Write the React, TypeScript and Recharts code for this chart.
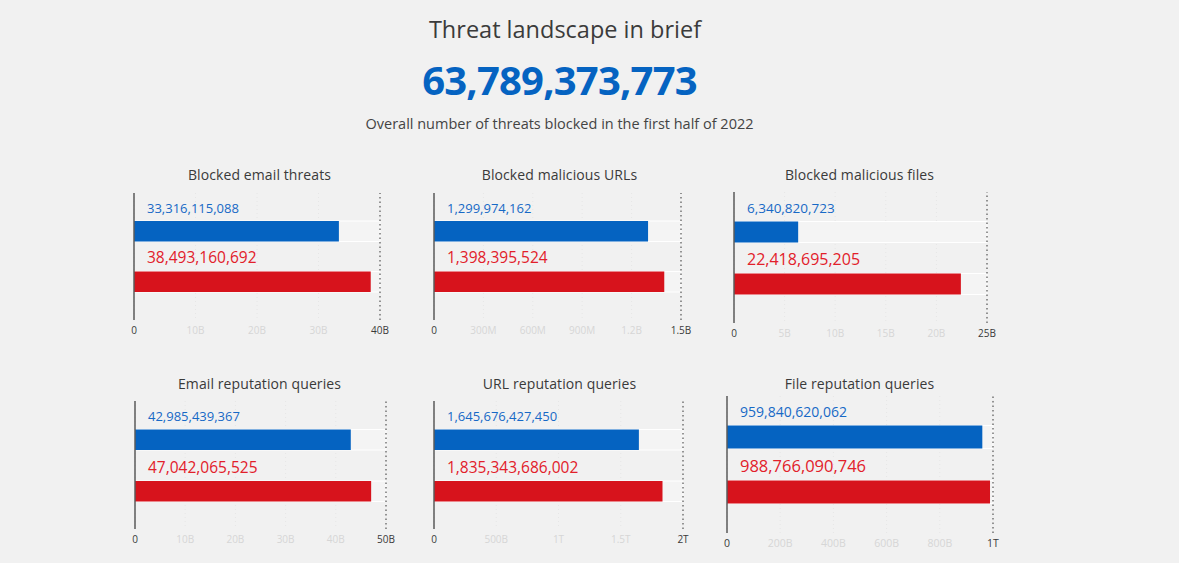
import React from 'react';
import { BarChart, Bar, XAxis, YAxis, CartesianGrid, ReferenceLine, Cell, LabelList } from 'recharts';

// ---- data ----
const panelTitles = [
  'Blocked email threats',
  'Blocked malicious URLs',
  'Blocked malicious files',
  'Email reputation queries',
  'URL reputation queries',
  'File reputation queries',
];
const periods = ['Previous period', 'H1 2022'];
const blueValues = [33316115088, 1299974162, 6340820723, 42985439367, 1645676427450, 959840620062];
const redValues = [38493160692, 1398395524, 22418695205, 47042065525, 1835343686002, 988766090746];
const axisMax = [40e9, 1.5e9, 25e9, 50e9, 2e12, 1e12];
const axisTicks = [
  [0, 10e9, 20e9, 30e9, 40e9],
  [0, 3e8, 6e8, 9e8, 1.2e9, 1.5e9],
  [0, 5e9, 10e9, 15e9, 20e9, 25e9],
  [0, 10e9, 20e9, 30e9, 40e9, 50e9],
  [0, 5e11, 1e12, 1.5e12, 2e12],
  [0, 2e11, 4e11, 6e11, 8e11, 1e12],
];
const headline = 'Threat landscape in brief';
const totalBlocked = 63789373773;
const subtitle = 'Overall number of threats blocked in the first half of 2022';

// ---- layout (pixel geometry of each panel) ----
const layout = [
  { axisX: 134, maxX: 380, top: 193, bottom: 320, titleX: 259.5, titleY: 175, bar: 20.5, pad: 13, blueFs: 13, redFs: 15.5, tickFs: 10 },
  { axisX: 434, maxX: 681, top: 193, bottom: 320, titleX: 559.5, titleY: 175, bar: 20.5, pad: 13, blueFs: 13, redFs: 15.5, tickFs: 10 },
  { axisX: 734, maxX: 987, top: 192, bottom: 323, titleX: 859.5, titleY: 175, bar: 21, pad: 13.5, blueFs: 13.5, redFs: 16, tickFs: 10 },
  { axisX: 135, maxX: 386, top: 401, bottom: 529, titleX: 259.5, titleY: 384, bar: 20.5, pad: 12.5, blueFs: 13, redFs: 15.5, tickFs: 10 },
  { axisX: 434, maxX: 683, top: 401, bottom: 529, titleX: 559.5, titleY: 384, bar: 20.5, pad: 12.5, blueFs: 13, redFs: 15.5, tickFs: 10 },
  { axisX: 727, maxX: 993, top: 396, bottom: 533, titleX: 859.5, titleY: 384, bar: 23, pad: 13.5, blueFs: 14, redFs: 16.5, tickFs: 10.5 },
];

const BLUE = '#0563c1';
const RED = '#d7131c';
const BLUE_TXT = '#1769c6';
const RED_TXT = '#e2202a';
const FONT = '"Open Sans", "Noto Sans", sans-serif';

const fmtAxis = (v: number) => {
  if (v === 0) return '0';
  if (v >= 1e12) return `${+(v / 1e12).toFixed(1)}T`;
  if (v >= 1e9) return `${+(v / 1e9).toFixed(1)}B`;
  if (v >= 1e6) return `${+(v / 1e6).toFixed(1)}M`;
  return String(v);
};

function Panel({ idx }: { idx: number }) {
  const L = layout[idx];
  const max = axisMax[idx];
  const ticks = axisTicks[idx];
  const data = [
    { name: periods[0], value: blueValues[idx] },
    { name: periods[1], value: redValues[idx] },
  ];
  const mL = 20, mR = 24, mT = 10, xH = 30;
  const plotW = L.maxX - L.axisX;
  const plotH = L.bottom - L.top;
  const W = plotW + mL + mR;
  const H = plotH + mT + xH;

  const Tick = (p: any) => {
    const v = p.payload.value;
    const edge = v === 0 || v === max;
    return (
      <text x={p.x} y={p.y + 10} textAnchor="middle" dominantBaseline="central" fontSize={L.tickFs}
        fontFamily={FONT} fill={edge ? '#3a3a3a' : '#d6d6d6'}>
        {fmtAxis(v)}
      </text>
    );
  };

  const ValueLabel = (p: any) => {
    const i = p.index;
    const fs = i === 0 ? L.blueFs : L.redFs;
    return (
      <text x={p.x + 13} y={p.y - 8.5} textAnchor="start" fontSize={fs} fontFamily={FONT}
        fill={i === 0 ? BLUE_TXT : RED_TXT}>
        {Number(p.value).toLocaleString('en-US')}
      </text>
    );
  };

  return (
    <>
      <div style={{ position: 'absolute', left: L.titleX - 150, top: L.titleY - 10, width: 300, textAlign: 'center',
        fontFamily: FONT, fontSize: 14, lineHeight: '20px', color: '#3a3a3a', fontWeight: 500, letterSpacing: 0.1 }}>
        {panelTitles[idx]}
      </div>
      <div style={{ position: 'absolute', left: L.axisX - mL, top: L.top - mT }}>
        <BarChart width={W} height={H} layout="vertical" data={data}
          margin={{ top: mT, right: mR, left: mL, bottom: 0 }}>
          <CartesianGrid horizontal={false} vertical stroke="#e6e6e6" strokeDasharray="1 3" />
          <XAxis type="number" domain={[0, max]} ticks={ticks} interval={0} tick={<Tick />}
            tickLine={false} axisLine={false} tickSize={0} tickMargin={0} height={xH} allowDataOverflow />
          <YAxis type="category" dataKey="name" hide padding={{ top: L.pad, bottom: L.pad }} />
          <ReferenceLine x={max} stroke="#555" strokeDasharray="1.5 3" strokeWidth={1.2} />
          <Bar dataKey="value" barSize={L.bar} isAnimationActive={false}
            background={{ fill: '#f4f4f4', stroke: '#ffffff', strokeWidth: 1 }}>
            <Cell fill={BLUE} />
            <Cell fill={RED} />
            <LabelList dataKey="value" content={ValueLabel} />
          </Bar>
          <ReferenceLine x={0} stroke="#5a5a5a" strokeWidth={1.5} />
        </BarChart>
      </div>
    </>
  );
}

export default function App() {
  return (
    <div style={{ position: 'absolute', left: 0, top: 0, width: 1179, height: 563, background: '#f1f1f1', overflow: 'hidden' }}>
      <div style={{ position: 'absolute', left: 365, top: 12, width: 400, textAlign: 'center', fontFamily: FONT,
        fontSize: 23.5, lineHeight: '34px', color: '#3b3b3b' }}>{headline}</div>
      <div style={{ position: 'absolute', left: 259.5, top: 55, width: 600, textAlign: 'center', fontFamily: FONT,
        fontSize: 40, lineHeight: '50px', color: '#0563c1', fontWeight: 700, letterSpacing: -0.8 }}>
        {totalBlocked.toLocaleString('en-US')}
      </div>
      <div style={{ position: 'absolute', left: 259.5, top: 114, width: 600, textAlign: 'center', fontFamily: FONT,
        fontSize: 14.5, lineHeight: '20px', color: '#444' }}>{subtitle}</div>
      {panelTitles.map((_, i) => <Panel key={i} idx={i} />)}
    </div>
  );
}
